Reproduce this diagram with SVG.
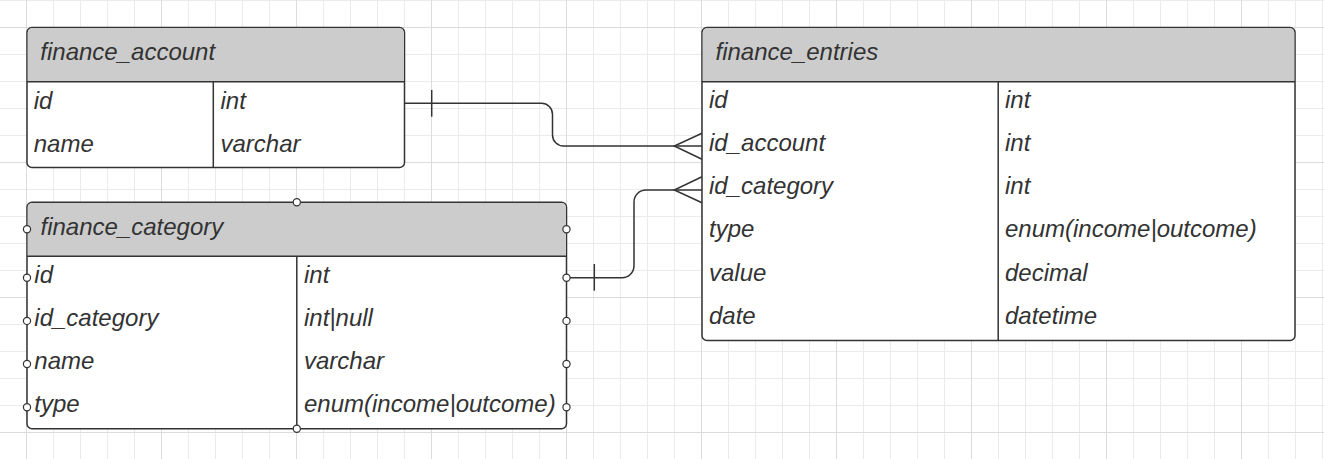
<svg xmlns="http://www.w3.org/2000/svg" width="1324" height="459" viewBox="0 0 1324 459">
  <defs>
    <pattern id="minor" x="0" y="0" width="27" height="27" patternUnits="userSpaceOnUse">
      <path d="M26.5,0 V27 M0,0.5 H27" fill="none" stroke="#ebebeb" stroke-width="1"/>
    </pattern>
    <pattern id="major" x="0" y="0" width="135" height="135" patternUnits="userSpaceOnUse">
      <path d="M26.5,0 V135 M0,27.5 H135" fill="none" stroke="#dcdcdc" stroke-width="1"/>
    </pattern>
  </defs>
  <style>
    .box { fill: #ffffff; stroke: #333333; stroke-width: 1.5; }
    .hdr { fill: #cccccc; stroke: none; }
    .ln { fill: none; stroke: #333333; stroke-width: 1.5; }
    .t { font-family: "Liberation Sans", Arial, sans-serif; font-style: italic; font-size: 24px; fill: #333333; }
    .pt { fill: #ffffff; stroke: #333333; stroke-width: 1.2; }
  </style>
  <rect width="1324" height="459" fill="#ffffff"/>
  <g id="grid">
    <rect width="1324" height="459" fill="url(#minor)"/>
    <rect width="1324" height="459" fill="url(#major)"/>
  </g>

  <g id="connectors">
    <!-- finance_account.id -> finance_entries.id_account -->
    <path class="ln" d="M405,103.3 H541.5 A11,11 0 0 1 552.5,114.3 V135 A11,11 0 0 0 563.5,146 H702"/>
    <path class="ln" d="M431.7,90 V116.7"/>
    <path class="ln" d="M702,133.3 L674.3,146 L702,159.3"/>
    <!-- finance_category.id -> finance_entries.id_category -->
    <path class="ln" d="M566.5,277.8 H622 A12,12 0 0 0 634,265.8 V202 A12,12 0 0 1 646,190 H702"/>
    <path class="ln" d="M594.3,264 V290.7"/>
    <path class="ln" d="M702,176.7 L674.3,190 L702,202.7"/>
  </g>

  <g id="finance_account">
    <rect class="box" x="27" y="27.5" width="377.5" height="140" rx="5"/>
    <path class="hdr" d="M27.75,81.7 V32.5 A4.25,4.25 0 0 1 32,28.25 H399.5 A4.25,4.25 0 0 1 403.75,32.5 V81.7 Z"/>
    <path class="ln" d="M27,81.7 H404.5 M213.3,81.7 V167.5"/>
    <text class="t" x="40.3" y="60">finance_account</text>
    <text class="t" x="33.7" y="108.5">id</text>
    <text class="t" x="220.5" y="108.5">int</text>
    <text class="t" x="33.7" y="151.5">name</text>
    <text class="t" x="220.5" y="151.5">varchar</text>
  </g>

  <g id="finance_entries">
    <rect class="box" x="702" y="27.5" width="593" height="313" rx="5"/>
    <path class="hdr" d="M702.75,81.7 V32.5 A4.25,4.25 0 0 1 707,28.25 H1290 A4.25,4.25 0 0 1 1294.25,32.5 V81.7 Z"/>
    <path class="ln" d="M702,81.7 H1295 M998.2,81.7 V340.5"/>
    <text class="t" x="715.5" y="60">finance_entries</text>
    <text class="t" x="709" y="108">id</text>
    <text class="t" x="1005" y="108">int</text>
    <text class="t" x="709" y="151.2">id_account</text>
    <text class="t" x="1005" y="151.2">int</text>
    <text class="t" x="709" y="194.3">id_category</text>
    <text class="t" x="1005" y="194.3">int</text>
    <text class="t" x="709" y="237.4">type</text>
    <text class="t" x="1005" y="237.4">enum(income|outcome)</text>
    <text class="t" x="709" y="280.5">value</text>
    <text class="t" x="1005" y="280.5">decimal</text>
    <text class="t" x="709" y="323.6">date</text>
    <text class="t" x="1005" y="323.6">datetime</text>
  </g>

  <g id="finance_category">
    <rect class="box" x="27" y="202.3" width="539.5" height="226.5" rx="5"/>
    <path class="hdr" d="M27.75,256.3 V207.3 A4.25,4.25 0 0 1 32,203.05 H561.5 A4.25,4.25 0 0 1 565.75,207.3 V256.3 Z"/>
    <path class="ln" d="M27,256.3 H566.5 M296.8,256.3 V428.8"/>
    <text class="t" x="40.5" y="235">finance_category</text>
    <text class="t" x="34.3" y="282.6">id</text>
    <text class="t" x="304" y="282.6">int</text>
    <text class="t" x="34.3" y="325.7">id_category</text>
    <text class="t" x="304" y="325.7">int|null</text>
    <text class="t" x="34.3" y="368.8">name</text>
    <text class="t" x="304" y="368.8">varchar</text>
    <text class="t" x="34.3" y="411.9">type</text>
    <text class="t" x="304" y="411.9">enum(income|outcome)</text>
    <circle class="pt" cx="296.8" cy="202.3" r="3.6"/>
    <circle class="pt" cx="296.8" cy="428.8" r="3.6"/>
    <circle class="pt" cx="27" cy="229.3" r="3.6"/>
    <circle class="pt" cx="566.5" cy="229.3" r="3.6"/>
    <circle class="pt" cx="27" cy="277.8" r="3.6"/>
    <circle class="pt" cx="27" cy="320.9" r="3.6"/>
    <circle class="pt" cx="27" cy="364" r="3.6"/>
    <circle class="pt" cx="27" cy="407.2" r="3.6"/>
    <circle class="pt" cx="566.5" cy="277.8" r="3.6"/>
    <circle class="pt" cx="566.5" cy="320.9" r="3.6"/>
    <circle class="pt" cx="566.5" cy="364" r="3.6"/>
    <circle class="pt" cx="566.5" cy="407.2" r="3.6"/>
  </g>
</svg>
